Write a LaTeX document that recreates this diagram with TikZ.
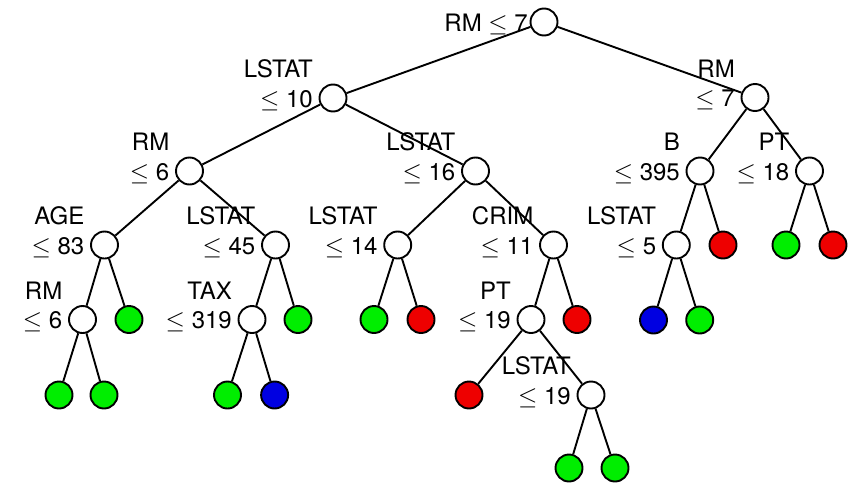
\documentclass[tikz,border=0pt]{standalone}
\usepackage{fontspec}
\setmainfont{TeX Gyre Heros}
\usetikzlibrary{calc}
\definecolor{leafgreen}{RGB}{0,238,0}
\definecolor{leafred}{RGB}{238,0,0}
\definecolor{leafblue}{RGB}{0,0,225}
\newcommand{\myle}{{\fontsize{31}{31}\selectfont$\leq$}}
\begin{document}
\begin{tikzpicture}[x=1pt,y=-1pt,
  dnode/.style={circle,draw=black,line width=1.9pt,minimum size=27pt,inner sep=0pt,fill=white},
  gleaf/.style={dnode,fill=leafgreen},
  rleaf/.style={dnode,fill=leafred},
  bleaf/.style={dnode,fill=leafblue},
  lbl/.style={anchor=base east,inner sep=0pt,font=\fontsize{24}{28}\selectfont,text=black},
  edge/.style={line width=1.9pt,draw=black}]
\useasboundingbox (0,0) rectangle (850,482);
% nodes
\node[dnode] (root) at (544,22) {};
\node[dnode] (a) at (333,98) {};
\node[dnode] (b) at (755,97.5) {};
\node[dnode] (aa) at (189.5,171) {};
\node[dnode] (ab) at (475.5,171) {};
\node[dnode] (ba) at (700,171) {};
\node[dnode] (bb) at (809.5,171) {};
\node[dnode] (aaa) at (104.5,245) {};
\node[dnode] (aab) at (275.5,245) {};
\node[dnode] (aba) at (397.7,245) {};
\node[dnode] (abb) at (553.5,245) {};
\node[dnode] (baa) at (676.3,245) {};
\node[rleaf] (bab) at (723,245) {};
\node[gleaf] (bba) at (786,245) {};
\node[rleaf] (bbb) at (833,245) {};
\node[dnode] (aaaa) at (82.5,319.5) {};
\node[gleaf] (aaab) at (129,319.5) {};
\node[dnode] (aaba) at (252,319.5) {};
\node[gleaf] (aabb) at (298,319.5) {};
\node[gleaf] (abaa) at (374,319.5) {};
\node[rleaf] (abab) at (421,319.5) {};
\node[dnode] (abba) at (531,319.5) {};
\node[rleaf] (abbb) at (577,319.5) {};
\node[bleaf] (baaa) at (653.5,320) {};
\node[gleaf] (baab) at (699.7,320) {};
\node[gleaf] (aaaaa) at (59,395) {};
\node[gleaf] (aaaab) at (104,395) {};
\node[gleaf] (aabaa) at (227.5,395) {};
\node[bleaf] (aabab) at (274.6,395) {};
\node[rleaf] (abbaa) at (469,395) {};
\node[dnode] (abbab) at (591,395) {};
\node[gleaf] (abbaba) at (569,468) {};
\node[gleaf] (abbabb) at (615,468) {};
% edges
\foreach \p/\c in {root/a,root/b,a/aa,a/ab,b/ba,b/bb,aa/aaa,aa/aab,ab/aba,ab/abb,
  ba/baa,ba/bab,bb/bba,bb/bbb,aaa/aaaa,aaa/aaab,aab/aaba,aab/aabb,aba/abaa,aba/abab,
  abb/abba,abb/abbb,baa/baaa,baa/baab,aaaa/aaaaa,aaaa/aaaab,aaba/aabaa,aaba/aabab,
  abba/abbaa,abba/abbab,abbab/abbaba,abbab/abbabb}
  \draw[edge] (\p) -- (\c);
% labels
\node[lbl] (root-l) at ($(root)+(-16,9.5)$) {RM \myle\ 7};
\foreach \n/\t/\v in {a/LSTAT/10, b/RM/7, aa/RM/6, ab/LSTAT/16, ba/B/395, bb/PT/18,
  aaa/AGE/83, aab/LSTAT/45, aba/LSTAT/14, abb/CRIM/11, baa/LSTAT/5,
  aaaa/RM/6, aaba/TAX/319, abba/PT/19, abbab/LSTAT/19}{
  \node[lbl] (\n-l1) at ($(\n)+(-20,-20.5)$) {\t};
  \node[lbl] (\n-l2) at ($(\n)+(-20,9)$) {\myle\ \v};
}
\end{tikzpicture}
\end{document}
